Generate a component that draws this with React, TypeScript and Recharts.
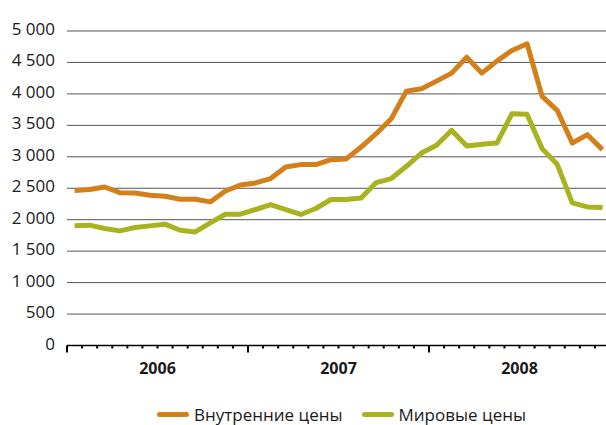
import React from 'react';
import { LineChart, Line, XAxis, YAxis, CartesianGrid, Legend } from 'recharts';

const years = ['2006', '2007', '2008'];
const monthNames = ['янв', 'фев', 'мар', 'апр', 'май', 'июн', 'июл', 'авг', 'сен', 'окт', 'ноя', 'дек'];
const domesticPrices = [
  2465, 2480, 2520, 2430, 2425, 2390, 2373, 2325, 2325, 2283, 2457, 2552,
  2584, 2654, 2838, 2876, 2876, 2955, 2965, 3155, 3368, 3606, 4044, 4082,
  4203, 4330, 4584, 4330, 4521, 4690, 4797, 3960, 3738, 3219, 3352, 3114,
];
const worldPrices = [
  1902, 1913, 1860, 1822, 1876, 1902, 1929, 1833, 1806, 1949, 2087, 2087,
  2162, 2241, 2162, 2083, 2178, 2321, 2321, 2346, 2590, 2654, 2849, 3060,
  3183, 3421, 3171, 3198, 3219, 3686, 3675, 3130, 2881, 2267, 2203, 2194,
];
const yTicks = [0, 500, 1000, 1500, 2000, 2500, 3000, 3500, 4000, 4500, 5000];
const seriesNames = ['Внутренние цены', 'Мировые цены'];
const seriesColors = ['#D4801A', '#A9B31F'];

const categories = years.flatMap((y) => monthNames.map((m) => `${m} ${y}`));
const data = categories.map((c, i) => ({
  month: c,
  pos: i + 0.5,
  domestic: domesticPrices[i],
  world: worldPrices[i],
}));
const xTicks = Array.from({ length: categories.length + 1 }, (_, i) => i);

const FONT = '"Open Sans", sans-serif';

const fmt = (v: number) =>
  v >= 1000 ? `${Math.floor(v / 1000)} ${String(v % 1000).padStart(3, '0')}` : String(v);

const YTick = (props: any) => {
  const { x, y, payload } = props;
  return (
    <text x={x} y={y} dy={4} textAnchor="end" fontFamily={FONT} fontSize={17} fill="#1a1a1a">
      {fmt(payload.value)}
    </text>
  );
};

const XTick = (props: any) => {
  const { x, y, payload } = props;
  const v = payload.value as number;
  const major = v % 12 === 0;
  const labelIdx = v % 12 === 6 ? Math.floor(v / 12) : -1;
  return (
    <g>
      <line x1={x} x2={x} y1={y} y2={y + (major ? 7 : 3)} stroke="#000" strokeWidth={2} />
      {labelIdx >= 0 && (
        <text x={x} y={y + 28.5} textAnchor="middle" fontFamily={FONT} fontWeight="bold" fontSize={16} fill="#1a1a1a">
          {years[labelIdx]}
        </text>
      )}
    </g>
  );
};

const LegendContent = () => (
  <div
    style={{
      height: 24,
      display: 'flex',
      alignItems: 'flex-end',
      paddingLeft: 157,
      fontFamily: FONT,
      fontSize: 17,
      lineHeight: '19px',
      color: '#1a1a1a',
      boxSizing: 'border-box',
    }}
  >
    {seriesNames.map((n, i) => (
      <div key={n} style={{ display: 'flex', alignItems: 'center', marginRight: 19 }}>
        <span
          style={{
            display: 'inline-block',
            width: 32,
            height: 5,
            borderRadius: 3,
            background: seriesColors[i],
            marginRight: 5,
          }}
        />
        <span>{n}</span>
      </div>
    ))}
  </div>
);

export default function App() {
  return (
    <div
      style={{
        position: 'fixed',
        left: 0,
        top: 0,
        width: 606,
        height: 425,
        overflow: 'hidden',
        background: '#fff',
      }}
    >
      <LineChart width={610} height={425} data={data} margin={{ top: 31, right: 0, left: 0, bottom: 0 }}>
        <CartesianGrid vertical={false} stroke="#555" strokeWidth={1} />
        <XAxis
          dataKey="pos"
          type="number"
          domain={[0, categories.length]}
          ticks={xTicks}
          interval={0}
          tickSize={0}
          tickMargin={0}
          tick={<XTick />}
          axisLine={{ stroke: '#000', strokeWidth: 1.5 }}
          tickLine={false}
          height={55.5}
        />
        <YAxis
          domain={[0, 5000]}
          ticks={yTicks}
          interval={0}
          width={67}
          tickSize={0}
          tickMargin={12}
          axisLine={false}
          tickLine={false}
          tick={<YTick />}
        />
        <Legend
          verticalAlign="bottom"
          align="left"
          content={<LegendContent />}
          wrapperStyle={{ bottom: 1, left: 0, width: 610 }}
        />
        <Line
          dataKey="domestic"
          name={seriesNames[0]}
          stroke={seriesColors[0]}
          strokeWidth={5}
          dot={false}
          strokeLinejoin="round"
          isAnimationActive={false}
        />
        <Line
          dataKey="world"
          name={seriesNames[1]}
          stroke={seriesColors[1]}
          strokeWidth={5}
          dot={false}
          strokeLinejoin="round"
          isAnimationActive={false}
        />
      </LineChart>
    </div>
  );
}
